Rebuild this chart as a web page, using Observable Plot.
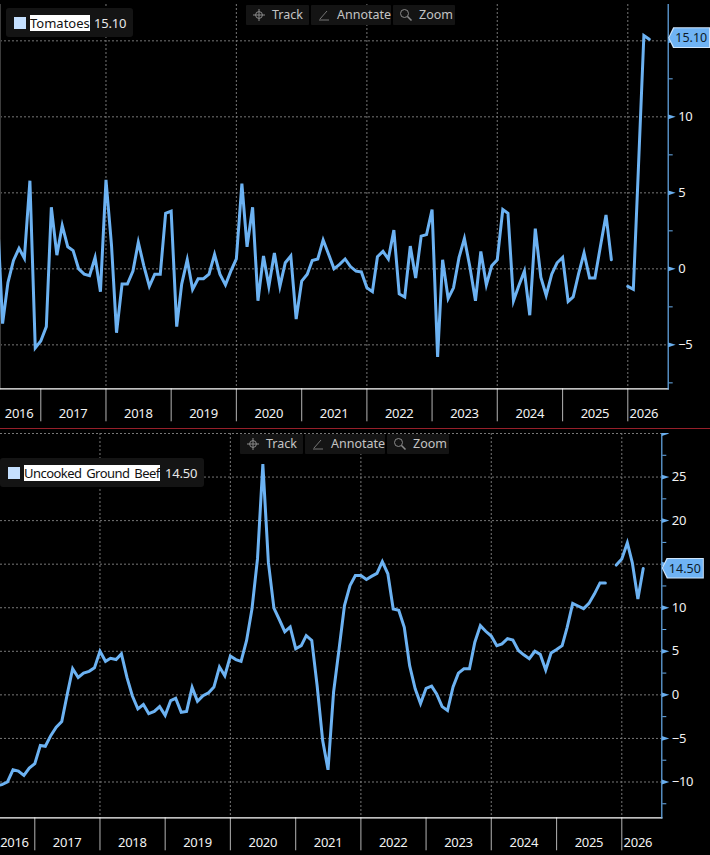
<!DOCTYPE html>
<html>
<head>
<meta charset="utf-8">
<script src="https://cdn.jsdelivr.net/npm/d3@7"></script>
<script src="https://cdn.jsdelivr.net/npm/@observablehq/plot@0.6"></script>
<style>
html,body{margin:0;padding:0;background:#000;overflow:hidden}
#page{position:relative;width:710px;height:855px;background:#000;font-family:"Noto Sans",sans-serif;overflow:hidden}
.panel{position:absolute;left:0;width:710px}
.panel svg{display:block}
.sep{position:absolute;left:0;width:710px;height:1px;background:#96202a;top:428px}
.legend{position:absolute;background:#141414;border-radius:3px;color:#fff;font-size:13px;line-height:16px;white-space:nowrap}
.swatch{position:absolute;width:12px;height:12px;background:#c5e0ff}
.lname{position:absolute;background:#fff;color:#111;height:16px;line-height:16px}
.lval{position:absolute;color:#e8e8e8;letter-spacing:-0.2px}
.btn{position:absolute;height:20px;background:#141414;color:#c4c4c4;font-size:12.5px;line-height:20px;white-space:nowrap;border-radius:1px}
.btn svg{position:absolute;left:6px;top:3px}
.btn span{position:absolute}
.tag{position:absolute;width:42px;height:21px;background:#cfe5fb;clip-path:polygon(5px 0,100% 0,100% 100%,5px 100%,0 50%)}
.tag i{position:absolute;left:1px;top:1px;right:1px;bottom:1px;background:#6fb3f4;clip-path:polygon(5px 0,100% 0,100% 100%,5px 100%,0 50%);font-style:normal;color:#0c1a28;font-size:12.5px;line-height:19px;text-align:right;padding-right:2px}
</style>
</head>
<body>
<div id="page"></div>
<script>
const yearLabels = [2016,2017,2018,2019,2020,2021,2022,2023,2024,2025,2026];

// Tomatoes, monthly from May 2016 through May 2026
const tomatoStart = [2016, 4];
const tomatoes = [
  4.0,-3.6,-0.9,0.55,1.35,0.7,5.8,-5.2,
  -4.75,-3.8,4.05,0.9,2.85,1.45,1.2,0,-0.35,-0.45,0.75,-1.5,
  5.85,1.55,-4.2,-1,-1,-0.15,1.75,0.2,-1.15,-0.35,-0.35,3.65,
  3.8,-3.8,-1,0.6,-1.35,-0.65,-0.65,-0.35,0.95,-0.35,-1.05,-0.15,
  0.65,5.6,1.45,4.05,-2.1,0.85,-1.15,1.05,-1.15,0.4,0.85,-3.3,
  -0.8,-0.35,0.55,0.65,1.9,0.95,0,0.3,0.65,0.15,-0.15,-0.2,
  -1.25,-1.5,0.8,1.15,0.65,2.55,-1.65,-1.85,1.5,-0.6,2.15,2.25,
  3.9,-5.8,0.6,-1.95,-1.25,0.75,2,0.1,-2.1,1.15,-1.05,0.2,
  0.6,3.9,3.65,-2.1,-1.1,-0.15,-3.05,2.65,-0.55,-1.75,-0.35,0.4,
  0.75,-2.15,-1.85,-0.3,1.05,-0.6,-0.6,1.5,3.55,0.6,null,null,
  -1.15,-1.35,6.5,15.35,15.1
];

// Uncooked Ground Beef, monthly from June 2016 through May 2026
const beefStart = [2016, 5];
const beef = [
  -10.4,-10.3,-10,-8.6,-8.75,-9.25,-8.4,
  -7.9,-5.8,-5.9,-4.65,-3.7,-3.05,0,3,2,2.5,2.7,3.1,
  5,3.85,4.2,4.05,4.7,2,-0.1,-1.6,-1.1,-2.15,-1.9,-1.35,
  -2.35,-0.65,-0.4,-2,-1.9,0.85,-0.75,-0.1,0.25,0.9,3.2,2.2,
  4.45,4.05,3.85,6.25,9.85,15.6,26.5,15.2,9.95,8.65,7.25,7.8,
  5.3,5.65,6.8,6.25,1.05,-5.25,-8.6,0.3,5.3,10.25,12.55,13.7,
  13.7,13.25,13.6,13.95,15.3,13.9,9.85,9.7,7.75,3.35,0.7,-1,
  0.75,1,0.1,-1.35,-1.8,0.9,2.5,3,3,6.05,7.95,7.3,
  6.75,5.65,5.85,6.45,6.3,5.1,4.6,4.15,5,4.65,2.85,4.8,
  5.2,5.65,7.75,10.5,10.2,9.9,10.5,11.6,12.85,12.85,null,14.9,
  15.6,17.45,15.15,11,14.5
];

const tomatoMajor = [-5,0,5,10,15];
const tomatoLabelled = [-5,0,5,10];
const tomatoMinor = [-7.5,-2.5,2.5,7.5,12.5];
const beefMajor = [-10,-5,0,5,10,15,20,25,30];
const beefLabelled = [-10,-5,0,5,10,20,25];
const beefMinor = [-12.5,-7.5,-2.5,2.5,7.5,12.5,17.5,22.5,27.5];

const LINE = "#6cb2f2", AXIS = "#69aeee", GRID = "#777";
const ut = (y,m,d=1) => new Date(Date.UTC(y,m,d));
const yearStarts = yearLabels.slice(1).map(y => ut(y,0));
const gridYears = [2018,2020,2022,2024,2026].map(y => ut(y,0));
const months = (start, vals) => vals.map((v,i) => ({date: ut(start[0], start[1]+i), v}));
const pointer = {draw(ctx){ ctx.moveTo(0,-2.4); ctx.lineTo(7.5,0); ctx.lineTo(0,2.4); ctx.closePath(); }};

const page = document.getElementById("page");

function panel(c){
  const t0 = +ut(2017,0), t1 = +ut(2026,0);
  const k = (t1-t0)/(c.x2026-c.x2017);
  const domain = [new Date(t0-k*c.x2017), new Date(t0+k*(c.axisX-c.x2017))];
  const data = months(c.start, c.values);
  const labelDates = yearLabels.map(y => y===2016 ? c.label2016 : y===2026 ? ut(2026,3) : ut(y,6));
  const plot = Plot.plot({
    width:710, height:c.height,
    marginLeft:0, marginRight:710-c.axisX, marginTop:c.marginTop, marginBottom:c.height-c.bottom,
    style:{background:"#000", color:"#fff", fontFamily:'"Noto Sans",sans-serif', fontSize:"13px", letterSpacing:"-0.3px", overflow:"hidden"},
    x:{type:"utc", domain, label:null},
    y:{domain:c.yDomain, label:null},
    marks:[
      Plot.gridY(c.major,{stroke:GRID,strokeOpacity:1,strokeWidth:1,strokeDasharray:"2,2"}),
      Plot.gridX(gridYears,{stroke:GRID,strokeOpacity:1,strokeWidth:1,strokeDasharray:"2,2"}),
      ...(c.leftEdge ? [Plot.frame({anchor:"left",stroke:"#3c3c3c"})] : []),
      Plot.axisX(yearStarts,{tickSize:33,tickFormat:()=>"",stroke:"#b4b4b4",label:null}),
      Plot.axisX(labelDates,{tickSize:0,tickPadding:20,tickFormat:d=>String(d.getUTCFullYear()),fill:"#f2f2f2",label:null}),
      Plot.axisY(c.minor,{anchor:"right",tickSize:4,tickFormat:()=>"",stroke:AXIS,label:null}),
      Plot.axisY(c.labelled,{anchor:"right",tickSize:0,tickPadding:10,tickFormat:d3.format("d"),fill:"#f2f2f2",label:null}),
      Plot.dot(c.major,{x:()=>domain[1],y:d=>d,symbol:pointer,r:3,fill:AXIS,stroke:null}),
      Plot.frame({anchor:"bottom",stroke:"#fff",strokeWidth:1.2}),
      Plot.frame({anchor:"right",stroke:AXIS,strokeWidth:1.2}),
      Plot.line(data,{x:"date",y:"v",stroke:LINE,strokeWidth:3,strokeLinejoin:"miter",strokeMiterlimit:6,clip:true})
    ]
  });
  const wrap = document.createElement("div");
  wrap.className = "panel";
  wrap.style.top = c.top+"px";
  wrap.style.height = c.height+"px";
  wrap.appendChild(plot);
  page.appendChild(wrap);

  // value flag follows the y scale
  const tag = document.createElement("div");
  tag.className = "tag";
  tag.style.left = (c.axisX+0.5)+"px";
  tag.style.top = (c.top + plot.scale("y").apply(c.last) + c.tagShift - 10.5)+"px";
  tag.innerHTML = "<i>"+c.last.toFixed(2)+"</i>";
  page.appendChild(tag);

  // legend box
  const lg = document.createElement("div");
  lg.className = "legend";
  Object.assign(lg.style,{left:c.lg.x+"px",top:c.lg.y+"px",width:c.lg.w+"px",height:"29px"});
  lg.innerHTML = '<div class="swatch" style="left:'+c.lg.sw+'px;top:9px"></div>'+
    '<div class="lname" style="left:'+(c.lg.sw+16)+'px;top:7px;letter-spacing:'+c.lg.ls+'px;word-spacing:'+c.lg.ws+'px">'+c.name+'</div>'+
    '<div class="lval" style="left:'+c.lg.val+'px;top:7px">'+c.last.toFixed(2)+'</div>';
  page.appendChild(lg);

  // toolbar
  const icons = {
    Track:'<svg width="14" height="14" viewBox="0 0 14 14" fill="none" stroke="#8a8a8a"><circle cx="7" cy="7" r="3.4"/><path d="M7 1v12M1 7h12"/></svg>',
    Annotate:'<svg width="14" height="14" viewBox="0 0 14 14" fill="none" stroke="#777"><path d="M2 12h10M3 11l7-8"/></svg>',
    Zoom:'<svg width="14" height="14" viewBox="0 0 14 14" fill="none" stroke="#8a8a8a"><circle cx="5.5" cy="5.5" r="4"/><path d="M8.5 8.5l4 4" stroke-width="1.6"/></svg>'
  };
  [["Track",0,63,26],["Annotate",65,80,26],["Zoom",147,62,26]].forEach(([n,dx,w,tx])=>{
    const b = document.createElement("div");
    b.className = "btn";
    Object.assign(b.style,{left:(c.bar.x+dx)+"px",top:c.bar.y+"px",width:w+"px"});
    b.innerHTML = icons[n]+'<span style="left:'+tx+'px">'+n+'</span>';
    page.appendChild(b);
  });
}

panel({
  name:"Tomatoes", last:15.10, start:tomatoStart, values:tomatoes,
  top:0, height:428, marginTop:4, bottom:388.3, axisX:667.7, x2017:40.3, x2026:627.3,
  yDomain:[-7.89,17.39], major:tomatoMajor, labelled:tomatoLabelled, minor:tomatoMinor, tagShift:-1,
  label2016:ut(2016,8), leftEdge:true,
  lg:{x:6,y:8,w:127,sw:8,val:88,ls:0,ws:0}, bar:{x:246,y:5}
});
panel({
  name:"Uncooked Ground Beef", last:14.50, start:beefStart, values:beef,
  top:433, height:422, marginTop:0, bottom:384.3, axisX:661.3, x2017:34.3, x2026:621.3,
  yDomain:[-14.11,30], major:beefMajor, labelled:beefLabelled, minor:beefMinor, tagShift:0,
  label2016:ut(2016,8,9), leftEdge:false,
  lg:{x:0,y:457.5,w:204,sw:8,val:165,ls:-0.55,ws:2}, bar:{x:240,y:434}
});
const sep = document.createElement("div");
sep.className = "sep";
page.appendChild(sep);
</script>
</body>
</html>
